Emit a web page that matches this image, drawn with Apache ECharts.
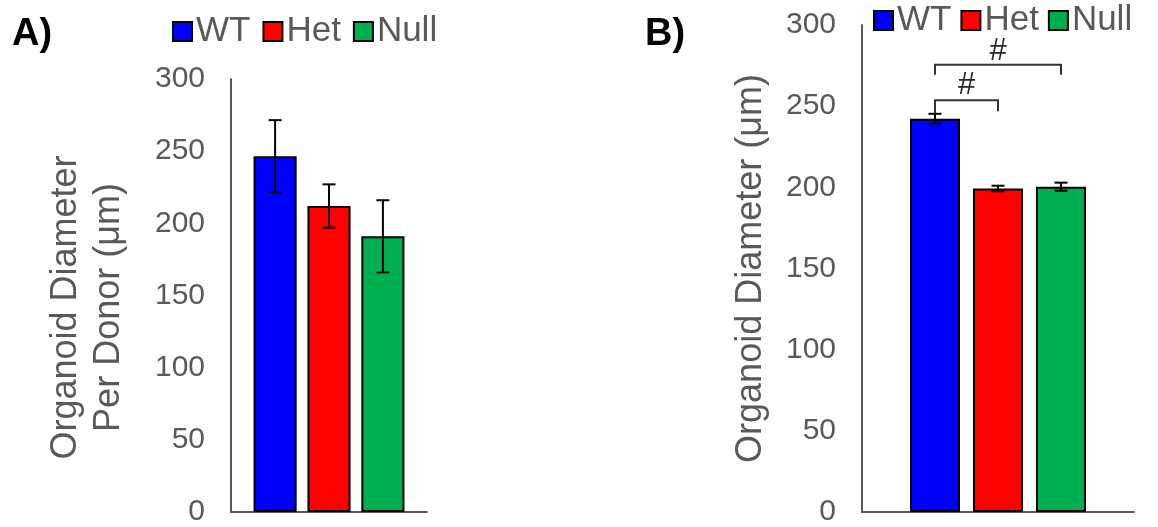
<!DOCTYPE html>
<html>
<head>
<meta charset="utf-8">
<script src="https://cdn.jsdelivr.net/npm/echarts@6/dist/echarts.min.js"></script>
<style>
  html, body { margin: 0; padding: 0; background: #fff; }
  #chart { width: 1158px; height: 527px; }
</style>
</head>
<body>
<div id="chart"></div>
<script>
// groups shown in both panels
const groups = ['WT', 'Het', 'Null'];
const groupColors = ['#0000ff', '#ff0000', '#00b050'];

// A) organoid diameter per donor (um)
const donorMean = [246.5, 212, 191];
const donorErr = [25, 15, 25];

// B) organoid diameter (um)
const organoidMean = [242.3, 199.3, 200.4];
const organoidErr = [3, 1.7, 2.5];

// significance brackets in B: bar indices, bracket level, leg ends, label height
const sigFrom = [0, 0];
const sigTo = [1, 2];
const sigLevel = [253.6, 275.5];
const sigLegFrom = [245.5, 269.3];
const sigLegTo = [246.8, 269.3];
const sigLabelAt = [263, 283.6];
const sigLabel = ['#', '#'];

const yMin = 0, yMax = 300, yStep = 50;

// bar layout per panel: [barCategoryGap, barGap]
const layoutA = [0.23, 0.25];
const layoutB = [0.353, 0.26];

const axisColor = '#595959';
const font = 'Liberation Sans, Arial, sans-serif';

// same maths as echarts' own bar layout, to put error bars on bar centres
function barOffset (band, i, n, catGap, gap) {
    const remained = band * (1 - catGap);
    const w = remained / (n + (n - 1) * gap);
    return -remained / 2 + i * w * (1 + gap) + w / 2;
}

function barSeries (grid, mean, lay) {
    return groups.map(function (g, i) {
        return {
            name: g,
            type: 'bar',
            xAxisIndex: grid,
            yAxisIndex: grid,
            data: [mean[i]],
            barCategoryGap: (lay[0] * 100) + '%',
            barGap: (lay[1] * 100) + '%',
            itemStyle: { color: groupColors[i], borderColor: '#000', borderWidth: 2 },
            silent: true
        }
    })
}

function errSeries (grid, mean, err, lay) {
    return groups.map(function (g, i) {
        return {
            type: 'custom',
            xAxisIndex: grid,
            yAxisIndex: grid,
            z: 10,
            silent: true,
            encode: { x: 0, y: [1, 2] },
            data: [[0, mean[i] - err[i], mean[i] + err[i]]],
            renderItem: function (params, api) {
                const band = api.size([1, 0])[0];
                const lo = api.coord([api.value(0), api.value(1)]);
                const hi = api.coord([api.value(0), api.value(2)]);
                const x = lo[0] + barOffset(band, i, groups.length, lay[0], lay[1]);
                const cap = 6.5;
                const st = { stroke: '#000', lineWidth: 2 };
                return {
                    type: 'group',
                    children: [
                        { type: 'line', shape: { x1: x, y1: lo[1], x2: x, y2: hi[1] }, style: st },
                        { type: 'line', shape: { x1: x - cap, y1: lo[1], x2: x + cap, y2: lo[1] }, style: st },
                        { type: 'line', shape: { x1: x - cap, y1: hi[1], x2: x + cap, y2: hi[1] }, style: st }
                    ]
                }
            }
        }
    })
}

const sigSeries = {
    type: 'custom',
    xAxisIndex: 1,
    yAxisIndex: 1,
    z: 12,
    silent: true,
    data: sigLevel.map(function (v) { return [0, v] }),
    renderItem: function (params, api) {
        const k = params.dataIndex;
        const band = api.size([1, 0])[0];
        const base = api.coord([0, sigLevel[k]]);
        const x1 = base[0] + barOffset(band, sigFrom[k], groups.length, layoutB[0], layoutB[1]);
        const x2 = base[0] + barOffset(band, sigTo[k], groups.length, layoutB[0], layoutB[1]);
        const y = base[1];
        const ya = api.coord([0, sigLegFrom[k]])[1];
        const yb = api.coord([0, sigLegTo[k]])[1];
        const yl = api.coord([0, sigLabelAt[k]])[1];
        return {
            type: 'group',
            children: [
                {
                    type: 'polyline',
                    shape: { points: [[x1, ya], [x1, y], [x2, y], [x2, yb]] },
                    style: { stroke: '#333', lineWidth: 2, fill: null }
                },
                {
                    type: 'text',
                    x: (x1 + x2) / 2,
                    y: yl,
                    style: {
                        text: sigLabel[k],
                        font: '31px ' + font,
                        fill: '#262626',
                        align: 'center',
                        verticalAlign: 'middle'
                    }
                }
            ]
        }
    }
};

function yAxis (grid, name, gap, pad, lh) {
    return {
        type: 'value',
        gridIndex: grid,
        min: yMin,
        max: yMax,
        interval: yStep,
        name: name,
        nameLocation: 'middle',
        nameGap: gap,
        nameTextStyle: { fontSize: 36, color: axisColor, lineHeight: lh, padding: pad, fontFamily: font },
        axisLine: { show: true, lineStyle: { color: axisColor, width: 2 } },
        axisTick: { show: false },
        splitLine: { show: false },
        axisLabel: { fontSize: 30, color: axisColor, margin: 26, fontFamily: font }
    }
}

function xAxis (grid) {
    return {
        type: 'category',
        gridIndex: grid,
        data: [''],
        axisLine: { show: true, lineStyle: { color: axisColor, width: 2 } },
        axisTick: { show: false },
        axisLabel: { show: false }
    }
}

function legend (left, top, gap) {
    return {
        data: groups,
        left: left,
        top: top,
        padding: 0,
        itemWidth: 19,
        itemHeight: 19,
        itemGap: gap,
        icon: 'rect',
        selectedMode: false,
        textStyle: { fontSize: 35, lineHeight: 20, color: axisColor, fontFamily: font, padding: [0, 0, 0, -1] }
    }
}

const option = {
    animation: false,
    textStyle: { fontFamily: font },
    title: [
        { text: 'A)', left: 12, top: 16, padding: 0, textStyle: { fontSize: 38, fontWeight: 'bold', color: '#000', fontFamily: font } },
        { text: 'B)', left: 645, top: 16, padding: 0, textStyle: { fontSize: 38, fontWeight: 'bold', color: '#000', fontFamily: font } }
    ],
    legend: [legend(172, 14, 12), legend(873, 3, 9)],
    grid: [
        { left: 231, top: 79, width: 196, bottom: 13 },
        { left: 862, top: 25, width: 272, bottom: 13 }
    ],
    xAxis: [xAxis(0), xAxis(1)],
    yAxis: [
        yAxis(0, 'Organoid Diameter\nPer Donor (μm)', 100, [0, 24, 0, 0], 43),
        yAxis(1, 'Organoid Diameter (μm)', 93, 0, 36)
    ],
    series: []
        .concat(barSeries(0, donorMean, layoutA))
        .concat(errSeries(0, donorMean, donorErr, layoutA))
        .concat(barSeries(1, organoidMean, layoutB))
        .concat(errSeries(1, organoidMean, organoidErr, layoutB))
        .concat([sigSeries])
};

const myChart = echarts.init(document.getElementById('chart'));
myChart.setOption(option);
</script>
</body>
</html>
